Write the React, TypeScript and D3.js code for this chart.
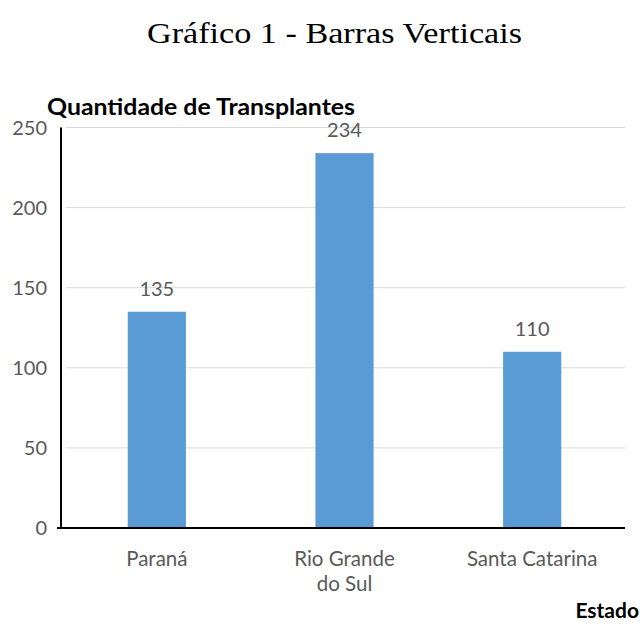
import React from "react";
import * as d3 from "d3";

const categories: string[][] = [["Paraná"], ["Rio Grande", "do Sul"], ["Santa Catarina"]];
const values: number[] = [135, 234, 110];
const yTicks: number[] = [0, 50, 100, 150, 200, 250];
const title = "Gráfico 1 - Barras Verticais";
const yTitle = "Quantidade de Transplantes";
const xTitle = "Estado";

export default function App() {
  const W = 643, H = 627;
  const left = 62, right = 625, top = 127.5, bottom = 528;
  const keys = categories.map((c) => c.join(" "));
  const x = d3.scaleBand<string>().domain(keys).range([left + 1, right + 1]).paddingInner(0.69).paddingOuter(0.345);
  const y = d3.scaleLinear().domain([0, 250]).range([bottom, top]);
  const sans = "Lato, 'Open Sans', sans-serif";
  const gray = "#595959";
  return (
    <svg width={W} height={H} style={{ position: "absolute", left: 0, top: 0, background: "#fff" }}>
      <text x={147} y={43} textLength={375} lengthAdjust="spacingAndGlyphs" fontFamily="'Liberation Serif', serif" fontSize={30} fill="#000">{title}</text>
      <text x={47} y={115} textLength={308} lengthAdjust="spacingAndGlyphs" fontFamily={sans} fontWeight="bold" fontSize={22} fill="#000">{yTitle}</text>
      {yTicks.map((t) => (
        <g key={t}>
          {t > 0 && <line x1={left + 4} x2={right} y1={y(t)} y2={y(t)} stroke="#d9d9d9" strokeWidth={1} />}
          <text x={47} y={y(t) + 7} textAnchor="end" fontFamily={sans} fontSize={20} fill={gray}>{t}</text>
        </g>
      ))}
      {values.map((v, i) => {
        const k = keys[i];
        const bx = x(k)!;
        return (
          <g key={k}>
            <rect x={bx} y={y(v)} width={x.bandwidth()} height={bottom - y(v)} fill="#5B9BD5" />
            <text x={bx + x.bandwidth() / 2} y={y(v) - 16} textAnchor="middle" fontFamily={sans} fontSize={20} fill={gray}>{v}</text>
            {categories[i].map((line, j) => (
              <text key={j} x={bx + x.bandwidth() / 2} y={566 + j * 25} textAnchor="middle" fontFamily={sans} fontSize={20.5} fill={gray}>{line}</text>
            ))}
          </g>
        );
      })}
      <line x1={left - 1} x2={left - 1} y1={top} y2={bottom} stroke="#000" strokeWidth={2} />
      <line x1={left - 5} x2={right} y1={bottom} y2={bottom} stroke="#000" strokeWidth={2} />
      <text x={639} y={618} textAnchor="end" fontFamily={sans} fontWeight="bold" fontSize={21} fill="#000">{xTitle}</text>
    </svg>
  );
}
